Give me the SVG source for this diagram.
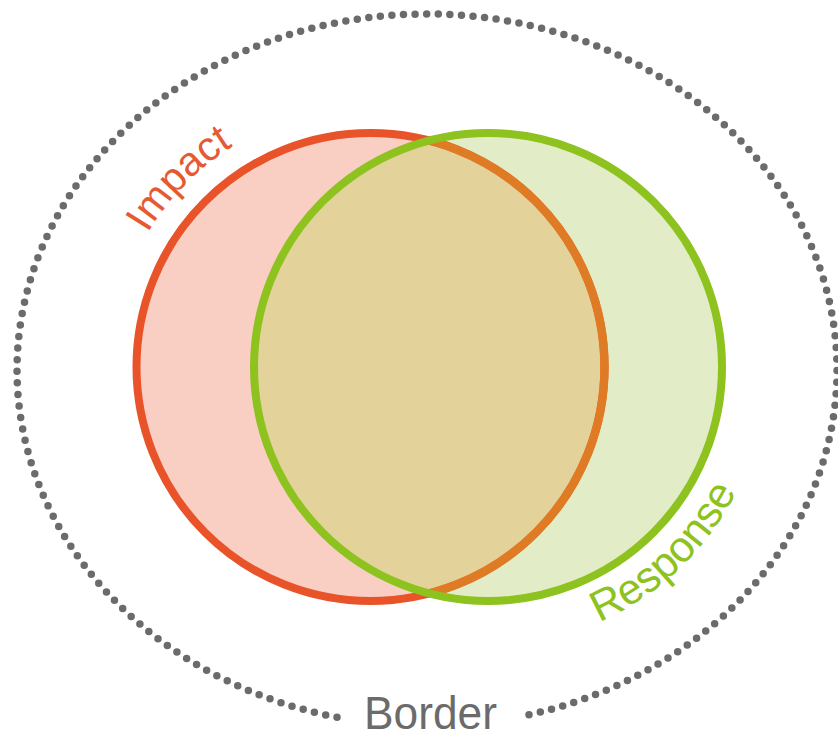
<svg xmlns="http://www.w3.org/2000/svg" width="838" height="739" viewBox="0 0 838 739">
  <style>
    .lbl { font-family: "Liberation Sans", Arial, sans-serif; font-weight: normal; }
    .dots { fill: none; stroke: #6b6b6b; stroke-width: 7.5; stroke-linecap: round; stroke-dasharray: 0 11.6; }
  </style>
  <defs>
    <path id="impactArc" d="M 147.6 233.1 A 260 260 0 0 1 500.5 141.8"/>
    <path id="responseArc" d="M 599 622 A 278 278 0 0 0 766 367"/>
    <clipPath id="redClip"><circle cx="370.5" cy="367" r="234"/></clipPath>
  </defs>
  <rect width="838" height="739" fill="#ffffff"/>
  <g id="border">
    <path class="dots" d="M 337 717.3 A 410 356 0 1 1 522 716.3"/>
    <text class="lbl" x="364" y="729" font-size="46" fill="#6b6b6b" textLength="133" lengthAdjust="spacingAndGlyphs">Border</text>
  </g>
  <g id="impact">
    <circle cx="370.5" cy="367" r="234" fill="#f8cfc2" stroke="none"/>
    <text class="lbl" font-size="41" fill="#e65a32"><textPath href="#impactArc">Impact</textPath></text>
  </g>
  <g id="response">
    <circle cx="488" cy="367" r="234" fill="#e2edc8" stroke="none"/>
    <circle cx="488" cy="367" r="234" fill="#e3d29a" stroke="none" clip-path="url(#redClip)"/>
    <circle cx="370.5" cy="367" r="234" fill="none" stroke="#e8532a" stroke-width="8"/>
    <circle cx="370.5" cy="367" r="234" fill="none" stroke="#e07b25" stroke-width="8.5" clip-path="url(#greenClip)"/>
    <circle cx="488" cy="367" r="234" fill="none" stroke="#8dc21f" stroke-width="8"/>
    <text class="lbl" font-size="43" fill="#8dc21f"><textPath href="#responseArc">Response</textPath></text>
  </g>
  <defs>
    <clipPath id="greenClip"><circle cx="488" cy="367" r="234"/></clipPath>
  </defs>
  <g id="connectors"/>
</svg>
